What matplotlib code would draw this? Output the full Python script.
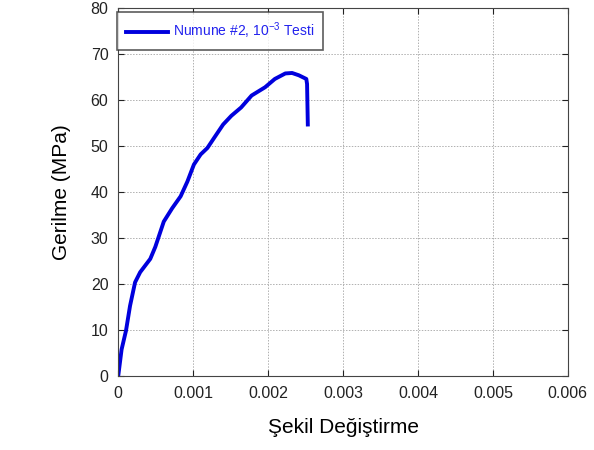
import matplotlib
matplotlib.use('Agg')
import matplotlib.pyplot as plt

plt.rcParams['font.family'] = ['Liberation Sans', 'DejaVu Sans']
plt.rcParams['mathtext.default'] = 'regular'

# strain-stress curve
strain = [0.0, 0.000045, 0.000104, 0.000158, 0.000225, 0.000293, 0.000428, 0.000495,
          0.000608, 0.00072, 0.000833, 0.000923, 0.00101, 0.0011, 0.00119, 0.00128,
          0.0014, 0.00151, 0.00164, 0.00178, 0.00196, 0.00209, 0.00223, 0.00232,
          0.00241, 0.00251, 0.00252, 0.00253]
stress = [0.0, 5.8, 9.9, 15.3, 20.4, 22.6, 25.5, 28.1,
          33.6, 36.5, 39.1, 42.3, 46.0, 48.2, 49.6, 51.8,
          54.7, 56.6, 58.4, 61.0, 62.8, 64.6, 65.8, 65.9,
          65.4, 64.6, 63.5, 54.7]

xticks = [0, 0.001, 0.002, 0.003, 0.004, 0.005, 0.006]
xticklabels = ['0', '0.001', '0.002', '0.003', '0.004', '0.005', '0.006']
yticks = [0, 10, 20, 30, 40, 50, 60, 70, 80]

fig = plt.figure(figsize=(5.94, 4.5), dpi=100)
ax = fig.add_axes([0.199, 0.164, 0.757, 0.818])

ax.plot(strain, stress, color='#0000dd', linewidth=2.8, solid_joinstyle='round',
        label='Numune #2, 10$^{-3}$ Testi')

ax.set_xlim(0, 0.006)
ax.set_ylim(0, 80)
ax.set_xticks(xticks)
ax.set_xticklabels(xticklabels)
ax.set_yticks(yticks)
ax.tick_params(direction='in', top=True, right=True, labelsize=11.5, length=4,
               pad=7, colors='#222222')
ax.grid(True, linestyle=(0, (1.5, 1.5)), color='#b0b0b0', linewidth=0.7)
for s in ax.spines.values():
    s.set_color('#444444')
    s.set_linewidth(0.8)

ax.set_xlabel('Şekil Değiştirme', fontsize=15, labelpad=12)
ax.set_ylabel('Gerilme (MPa)', fontsize=15, labelpad=14)

leg = ax.legend(loc='upper left', bbox_to_anchor=(-0.002, 0.99), fontsize=10,
                frameon=True, fancybox=False, borderaxespad=0, handlelength=3.0,
                handletextpad=0.35, borderpad=0.65)
leg.get_frame().set_edgecolor('#333333')
leg.get_frame().set_linewidth(1.2)
for t in leg.get_texts():
    t.set_color('#2222ee')

fig.savefig('out.png', dpi=100)
